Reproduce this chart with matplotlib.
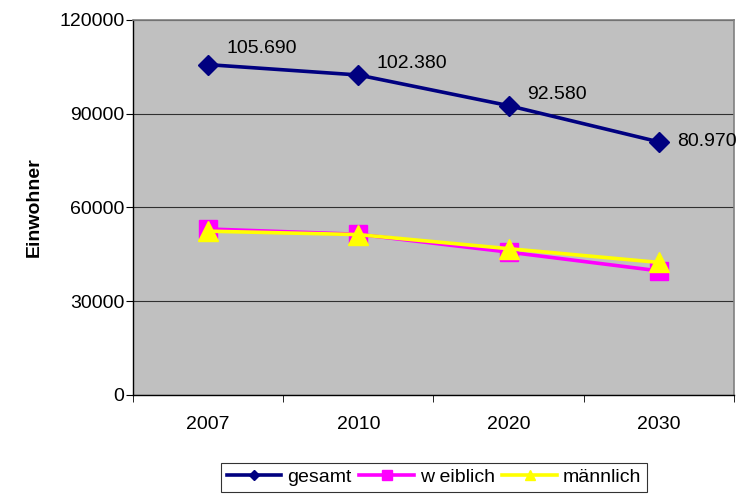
import matplotlib
matplotlib.use("Agg")
import matplotlib.pyplot as plt
import numpy as np

plt.rcParams['font.family'] = ['Liberation Sans', 'DejaVu Sans']

years = ["2007", "2010", "2020", "2030"]
gesamt = [105690, 102380, 92580, 80970]
weiblich = [53100, 51400, 45700, 39700]
maennlich = [52400, 51300, 46800, 42400]
gesamt_labels = ["105.690", "102.380", "92.580", "80.970"]
label_offsets = [(13, 11.5), (13, 8.5), (13, 8), (13, 0)]
yticks = [0, 30000, 60000, 90000, 120000]

FS = 14

fig = plt.figure(figsize=(7.38, 4.98), dpi=100)
ax = fig.add_axes([0.180, 0.207, 0.8146, 0.753])
ax.set_facecolor('#C0C0C0')

x = np.arange(len(years))
ax.plot(x, weiblich, color='#FF00FF', lw=2.6, marker='s', ms=12.5, mec='#FF00FF', zorder=3, label='w eiblich')
ax.plot(x, maennlich, color='#FFFF00', lw=2.6, marker='^', ms=14, mec='#FFFF00', zorder=4, label='männlich')
ax.plot(x, gesamt, color='#000080', lw=2.6, marker='D', ms=10, mec='#000080', zorder=5, label='gesamt')

for xi, yi, t, off in zip(x, gesamt, gesamt_labels, label_offsets):
    ax.annotate(t, (xi, yi), xytext=off, textcoords='offset points',
                ha='left', va='center', fontsize=FS, color='black')

ax.set_xlim(-0.5, len(years) - 0.5)
ax.set_ylim(0, 120000)
ax.set_yticks(yticks)
ax.set_yticklabels([str(v) for v in yticks], fontsize=FS)
ax.set_xticks(x)
ax.set_xticklabels(years, fontsize=FS)
ax.tick_params(axis='x', which='major', length=0, pad=15)
ax.set_xticks(np.arange(-0.5, len(years), 1.0), minor=True)
ax.tick_params(axis='x', which='minor', length=5, direction='out', color='black')
ax.tick_params(axis='y', length=5, direction='out', color='black', pad=1)
ax.grid(axis='y', color='#303030', lw=0.8)
ax.set_axisbelow(True)

for s in ['top', 'right']:
    ax.spines[s].set_color('#808080')
    ax.spines[s].set_linewidth(1.2)
for s in ['left', 'bottom']:
    ax.spines[s].set_color('black')
    ax.spines[s].set_linewidth(1.0)

ax.set_ylabel('Einwohner', fontsize=FS, fontweight='bold', labelpad=12)

handles, labels = ax.get_legend_handles_labels()
order = [2, 0, 1]
leg = fig.legend([handles[i] for i in order], [labels[i] for i in order],
                 loc='upper center', bbox_to_anchor=(0.588, 0.071), ncol=3,
                 fontsize=FS, frameon=True, fancybox=False, edgecolor='black',
                 handlelength=2.8, handletextpad=0.3, columnspacing=0.4,
                 borderpad=0.3, borderaxespad=0, markerscale=0.55)
leg.get_frame().set_linewidth(0.8)

fig.savefig('out.png', dpi=100)
